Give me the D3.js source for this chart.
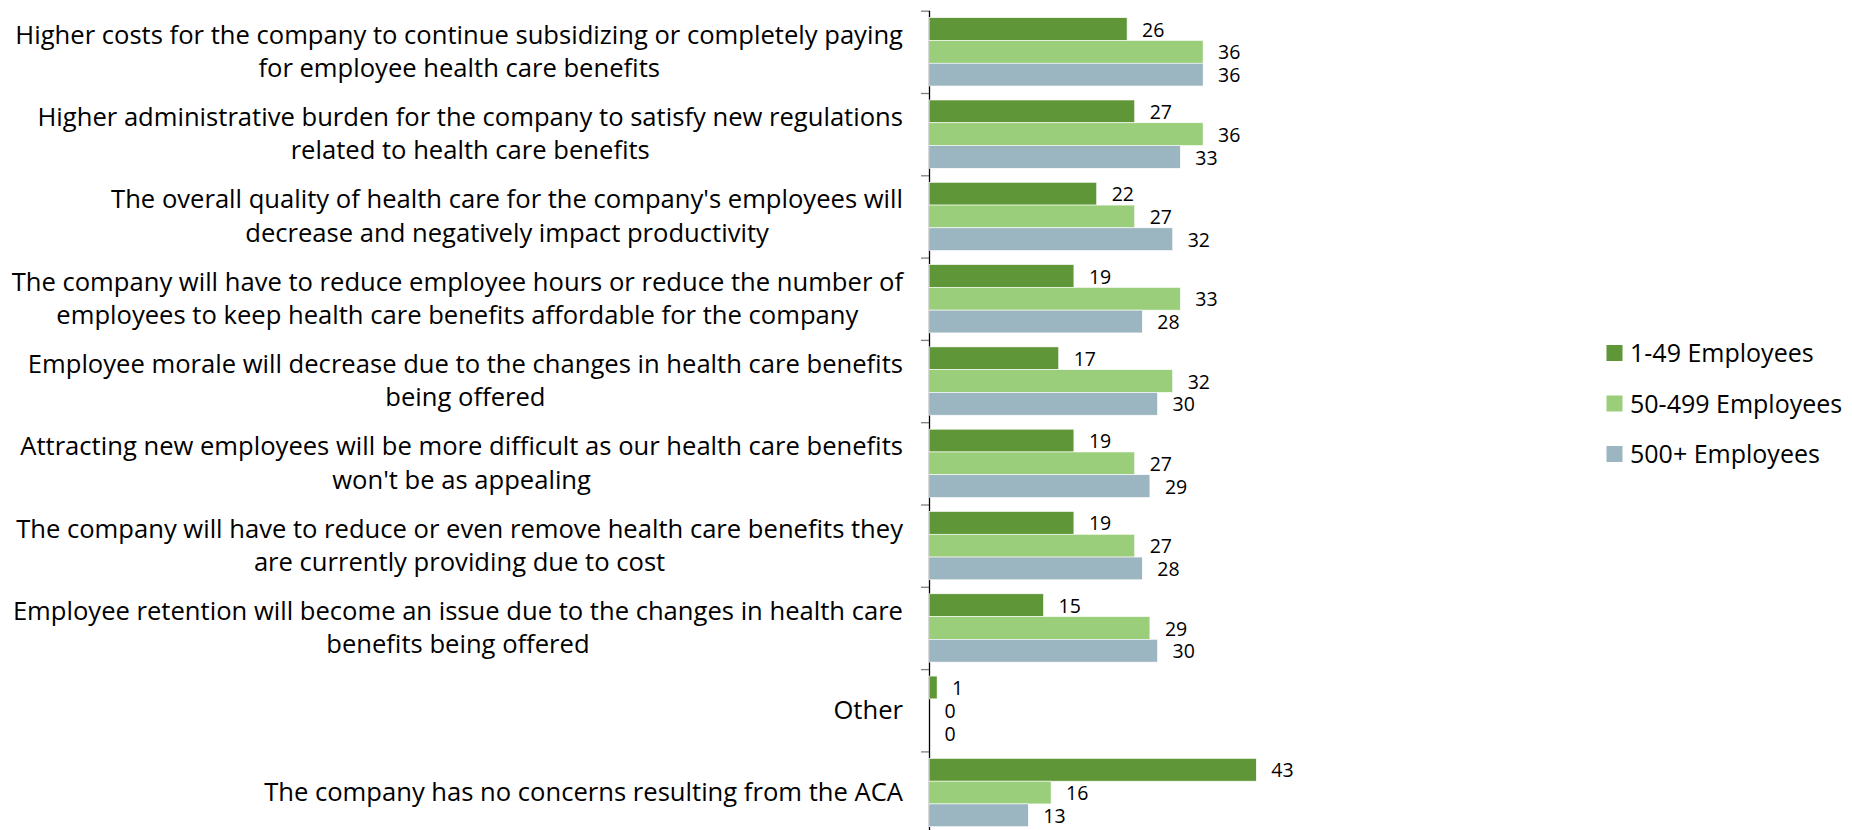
<!DOCTYPE html>
<html>
<head>
<meta charset="utf-8">
<script src="https://cdn.jsdelivr.net/npm/d3@7"></script>
<style>
  html, body { margin: 0; padding: 0; background: #ffffff; }
  svg { display: block; }
</style>
</head>
<body>
<svg id="chart" width="1852" height="830"></svg>
<script>
// Concerns resulting from the ACA, by company size (% of respondents)
const categories = [
  "Higher costs for the company to continue subsidizing or completely paying\nfor employee health care benefits",
  "Higher administrative burden for the company to satisfy new regulations\nrelated to health care benefits",
  "The overall quality of health care for the company's employees will\ndecrease and negatively impact productivity",
  "The company will have to reduce employee hours or reduce the number of\nemployees to keep health care benefits affordable for the company",
  "Employee morale will decrease due to the changes in health care benefits\nbeing offered",
  "Attracting new employees will be more difficult as our health care benefits\nwon't be as appealing",
  "The company will have to reduce or even remove health care benefits they\nare currently providing due to cost",
  "Employee retention will become an issue due to the changes in health care\nbenefits being offered",
  "Other",
  "The company has no concerns resulting from the ACA"
];
const seriesNames = ["1-49 Employees", "50-499 Employees", "500+ Employees"];
const small  = [26, 27, 22, 19, 17, 19, 19, 15, 1, 43];
const medium = [36, 36, 27, 33, 32, 27, 27, 29, 0, 16];
const large  = [36, 33, 32, 28, 30, 29, 28, 30, 0, 13];
const seriesValues = [small, medium, large];
const colors = ["#5f9638", "#9bce7b", "#9bb5c1"];

const FONT = "'Open Sans', Carlito, Calibri, sans-serif";
const svg = d3.select("#chart");

const axisX = 929.5, plotTop = 10.7, plotBottom = 833.7;

const x = d3.scaleLinear().domain([0, 50]).range([axisX, axisX + 380]);
const y = d3.scaleBand()
  .domain(d3.range(categories.length))
  .range([plotTop, plotBottom])
  .paddingInner(0.17)
  .paddingOuter(0.085);
const ySeries = d3.scaleBand()
  .domain(d3.range(seriesNames.length))
  .range([0, y.bandwidth()]);

// Category boundary ticks on the vertical axis
const yTicks = d3.scaleLinear().domain([0, categories.length]).range([plotTop, plotBottom]);
const axisG = svg.append("g")
  .attr("transform", `translate(${axisX},0)`)
  .call(d3.axisLeft(yTicks)
    .tickValues(d3.range(categories.length + 1))
    .tickSize(8.5)
    .tickSizeOuter(0)
    .tickFormat(""));
axisG.select(".domain").remove();
axisG.selectAll(".tick line").attr("stroke", "#7f7f7f").attr("stroke-width", 1.3);
svg.append("line")
  .attr("x1", axisX).attr("x2", axisX)
  .attr("y1", plotTop).attr("y2", 830)
  .attr("stroke", "#000").attr("stroke-width", 1.3);

// Bars
const groups = svg.append("g").selectAll("g")
  .data(categories.map((c, i) => i))
  .join("g")
  .attr("transform", i => `translate(0,${y(i)})`);

groups.selectAll("rect")
  .data(i => seriesValues.map((vals, s) => ({ s, v: vals[i] })))
  .join("rect")
  .attr("x", x(0))
  .attr("y", d => ySeries(d.s))
  .attr("width", d => x(d.v) - x(0))
  .attr("height", ySeries.bandwidth())
  .attr("fill", d => colors[d.s])
  .attr("stroke", d => d.v > 0 ? "#ffffff" : "none")
  .attr("stroke-width", 0.6);

// Value labels
groups.selectAll("text.value")
  .data(i => seriesValues.map((vals, s) => ({ s, v: vals[i] })))
  .join("text")
  .attr("class", "value")
  .attr("x", d => x(d.v) + 15)
  .attr("y", d => ySeries(d.s) + ySeries.bandwidth() / 2 + 7.6)
  .attr("font-family", FONT)
  .attr("font-size", 19.5)
  .attr("fill", "#000")
  .text(d => d.v);

// Category labels: lines centered within a block right-aligned to the axis
const labelRight = 903;
const lineGap = 33.3;
categories.forEach((label, i) => {
  const lines = label.split("\n");
  const cy = y(i) + y.bandwidth() / 2;
  const g = svg.append("g");
  const texts = g.selectAll("text")
    .data(lines)
    .join("text")
    .attr("font-family", FONT)
    .attr("font-size", 25.6)
    .attr("fill", "#000")
    .attr("text-anchor", "middle")
    .attr("y", (d, k) => cy + (k - (lines.length - 1) / 2) * lineGap + 8.5)
    .text(d => d);
  const maxW = d3.max(texts.nodes(), n => n.getComputedTextLength());
  texts.attr("x", labelRight - maxW / 2);
});

// Legend
const legend = svg.append("g").attr("transform", "translate(1606.5,353)");
const legendRows = legend.selectAll("g")
  .data(seriesNames)
  .join("g")
  .attr("transform", (d, i) => `translate(0,${i * 50.5})`);
legendRows.append("rect")
  .attr("x", 0).attr("y", -8)
  .attr("width", 16).attr("height", 16)
  .attr("fill", (d, i) => colors[i]);
legendRows.append("text")
  .attr("x", 23.5)
  .attr("y", 9)
  .attr("font-family", FONT)
  .attr("font-size", 25)
  .attr("fill", "#000")
  .text(d => d);
</script>
</body>
</html>
